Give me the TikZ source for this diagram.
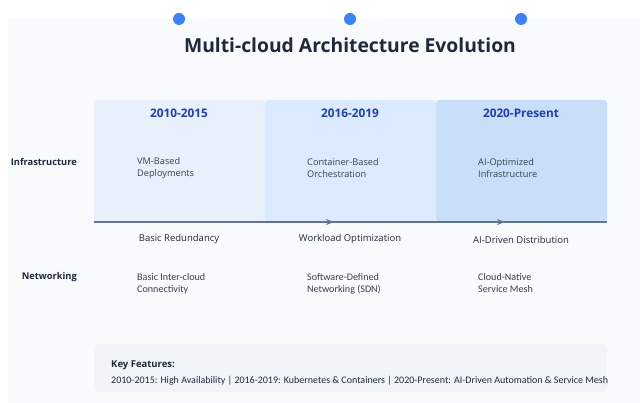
\documentclass[tikz,border=0pt]{standalone}
\usepackage{fontspec}
\setmainfont{Open Sans}
\newfontfamily\narrowfont{Carlito}
\usetikzlibrary{arrows.meta, positioning}

\definecolor{panelbg}{RGB}{248,250,252}
\definecolor{dotblue}{RGB}{59,130,246}
\definecolor{titlegray}{RGB}{30,41,59}
\definecolor{eraA}{RGB}{232,240,252}
\definecolor{eraB}{RGB}{219,234,254}
\definecolor{eraC}{RGB}{201,222,248}
\definecolor{yearblue}{RGB}{30,64,175}
\definecolor{bodygray}{RGB}{55,65,81}
\definecolor{axisgray}{RGB}{100,116,139}
\definecolor{keybg}{RGB}{241,245,249}

\begin{document}
\begin{tikzpicture}[x=1pt, y=-1pt, >=Stealth,
      era/.style={rounded corners=3pt, draw=none},
      yr/.style={font=\bfseries\fontsize{11.8}{13}\selectfont, text=yearblue},
      txt/.style={font=\fontsize{9.2}{12}\selectfont, text=bodygray, align=left, anchor=west, inner sep=0pt},
      ntxt/.style={font=\narrowfont\fontsize{10.1}{12}\selectfont, text=bodygray, align=left, anchor=west, inner sep=0pt},
      rowlbl/.style={font=\bfseries\fontsize{9.3}{10}\selectfont, text=titlegray, anchor=east, inner sep=0pt},
      imp/.style={font=\fontsize{9.5}{10}\selectfont, text=titlegray},
      axis/.style={axisgray, line width=1.5pt}]

    \useasboundingbox (0,0) rectangle (640,403);

    % ---- Layout ----
    \def\xa{94}      % left edge of first era
    \def\w{171}      % era width
    \def\ytop{100}   % top of era boxes
    \def\yax{222}    % timeline y

    % ---- Background ----
    \fill[panelbg] (8,19) rectangle (640,403);

    % ---- Dots along the top ----
    \foreach \cx in {179,350,521}
      \fill[dotblue] (\cx,19) circle (6);

    \node[font=\bfseries\fontsize{19.3}{21}\selectfont, text=titlegray] (title) at (350,45)
      {Multi-cloud Architecture Evolution};

    % ---- Era boxes ----
    \fill[era, eraA] (\xa,\ytop) rectangle ++(\w,\yax-\ytop);
    \fill[era, eraB] (\xa+\w,\ytop) rectangle ++(\w,\yax-\ytop);
    \fill[era, eraC] (\xa+2*\w,\ytop) rectangle ++(\w,\yax-\ytop);

    \node[yr] (y1) at (179,113) {2010-2015};
    \node[yr] (y2) at (350,113) {2016-2019};
    \node[yr] (y3) at (521,113) {2020-Present};

    % ---- Row labels ----
    \node[rowlbl] (infra) at (77,162) {Infrastructure};
    \node[rowlbl] (net)   at (77,277) {Networking};

    % ---- Infrastructure cells ----
    \node[txt] (i1) at (137,168.5) {VM-Based\\Deployments};
    \node[txt] (i2) at (307,168.5) {Container-Based\\Orchestration};
    \node[txt] (i3) at (478,168.5) {AI-Optimized\\Infrastructure};

    % ---- Timeline ----
    \coordinate (t0) at (\xa,\yax);
    \coordinate (t1) at (334,\yax);
    \coordinate (t2) at (505,\yax);
    \coordinate (t3) at (\xa+3*\w,\yax);
    \draw[axis] (t0) -- (t3);
    \draw[axis, -{Stealth[length=8pt, width=6pt]}] (t0) -- (t1);
    \draw[axis, -{Stealth[length=8pt, width=6pt]}] (t1) -- (t2);

    \node[imp] (c1) at (179,239.5) {Basic Redundancy};
    \node[imp] (c2) at (350,239.5) {Workload Optimization};
    \node[imp] (c3) at (521,239.5) {AI-Driven Distribution};

    % ---- Networking cells ----
    \node[ntxt] (n1) at (137,283.5) {Basic Inter-cloud\\Connectivity};
    \node[ntxt] (n2) at (307,283.5) {Software-Defined\\Networking (SDN)};
    \node[ntxt] (n3) at (478,283.5) {Cloud-Native\\Service Mesh};

    % ---- Key features ----
    \fill[keybg, rounded corners=4pt] (\xa,344) rectangle (607,392);
    \node[font=\bfseries\fontsize{9.5}{10}\selectfont, text=titlegray, anchor=west, inner sep=0pt]
      (kf) at (111,365) {Key Features:};
    \node[font=\narrowfont\fontsize{10}{10}\selectfont, text=titlegray, anchor=west, inner sep=0pt]
      (kl) at (111,381) {2010-2015: High Availability | 2016-2019: Kubernetes \& Containers | 2020-Present: AI-Driven Automation \& Service Mesh};

\end{tikzpicture}
\end{document}
